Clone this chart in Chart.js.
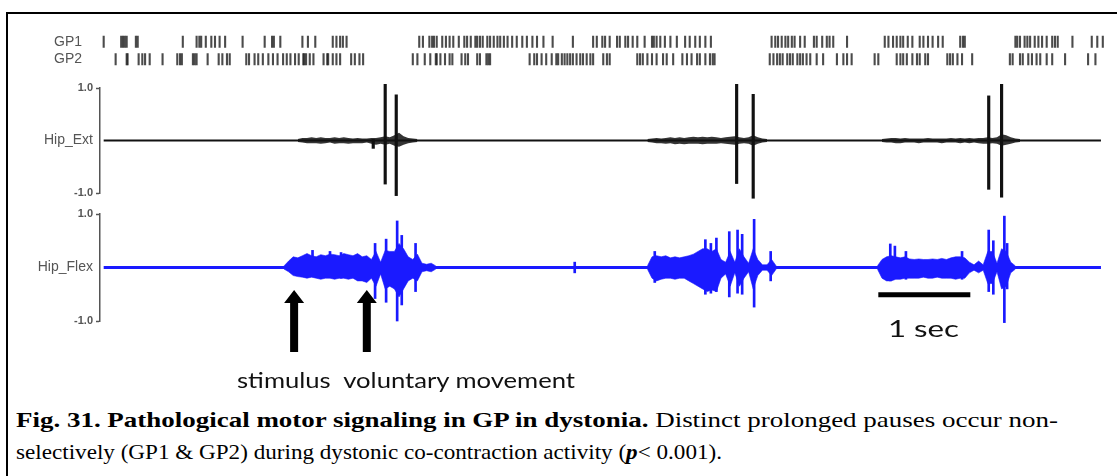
<!DOCTYPE html>
<html><head><meta charset="utf-8">
<script src="https://cdn.jsdelivr.net/npm/chart.js@4.4.1/dist/chart.umd.min.js"></script>
<style>
html,body{margin:0;padding:0;background:#fff;width:1117px;height:476px;overflow:hidden;position:relative;}
#frame{position:absolute;left:6px;top:12px;width:1111px;height:464px;border-left:2px solid #000;border-top:2px solid #000;box-sizing:border-box;}
canvas{position:absolute;left:0;}
.txt{position:absolute;white-space:nowrap;transform-origin:0 0;color:#111;}
.sans{font-family:Lato,'Open Sans',sans-serif;}
.serif{font-family:'Liberation Serif','Times New Roman',serif;font-size:22px;line-height:24px;color:#000;}
</style></head><body>
<div id="frame"></div>
<canvas id="raster" width="1117" height="60" style="top:20px"></canvas>
<canvas id="ext" width="1117" height="130" style="top:78px"></canvas>
<canvas id="flex" width="1117" height="170" style="top:200px"></canvas>
<div class="txt sans" data-w="338" style="left:237px;top:368px;font-size:21px;line-height:24px;">stimulus&nbsp; voluntary movement</div>
<div class="txt sans" data-w="71" style="left:888px;top:315px;font-size:24px;line-height:26px;">1 sec</div>
<div class="txt serif" data-w="1042" style="left:16px;top:408px;"><b>Fig. 31. Pathological motor signaling in GP in dystonia.</b> Distinct prolonged pauses occur non-</div>
<div class="txt serif" data-w="706" style="left:16px;top:440px;">selectively (GP1 &amp; GP2) during dystonic co-contraction activity (<b><i>p</i></b>&lt; 0.001).</div>
<script>
// ---------- data (time in seconds) ----------
const rasterLabels = ['GP1', 'GP2'];
const gp1Times = [0.04,0.23,0.25,0.27,0.29,0.39,0.41,0.90,1.05,1.08,1.10,1.15,1.21,1.25,1.30,1.36,1.55,1.79,1.87,1.89,1.96,2.20,2.26,2.34,2.53,2.57,2.61,2.64,2.68,
3.47,3.51,3.58,3.61,3.63,3.66,3.72,3.76,3.80,3.84,3.90,3.96,3.99,4.03,4.08,4.10,4.13,4.16,4.21,4.24,4.28,4.32,4.35,4.39,4.43,4.48,4.53,4.59,4.64,4.70,4.75,4.82,4.92,5.14,
5.36,5.40,5.46,5.49,5.54,5.62,5.65,5.71,5.74,5.79,5.84,5.92,6.00,6.02,6.05,6.09,6.14,6.20,6.27,6.36,6.41,6.47,6.52,6.58,6.64,
7.30,7.34,7.37,7.41,7.45,7.48,7.52,7.55,7.61,7.66,7.76,7.79,7.85,7.90,7.93,7.97,8.12,
8.53,8.57,8.62,8.66,8.70,8.73,8.78,8.83,8.91,8.95,9.00,9.05,9.11,9.16,9.35,9.38,9.40,
9.95,9.97,10.00,10.05,10.08,10.11,10.16,10.20,10.24,10.29,10.35,10.38,10.41,10.57,10.78,10.84,10.90];
const gp2Times = [0.17,0.29,0.30,0.42,0.46,0.49,0.54,0.68,0.84,0.87,0.89,1.01,1.03,1.05,1.17,1.29,1.33,1.38,1.41,1.59,1.62,1.68,1.72,1.77,1.83,1.88,1.93,1.99,2.03,2.07,2.12,2.16,2.21,2.22,2.24,2.28,2.32,2.43,2.47,2.48,2.53,2.57,2.61,2.73,2.77,2.82,2.86,
3.40,3.45,3.53,3.59,3.65,3.66,3.70,3.75,3.80,3.83,3.93,3.97,4.00,4.10,4.13,4.20,4.22,4.24,
4.67,4.72,4.75,4.80,4.85,4.91,4.96,4.98,5.02,5.05,5.08,5.11,5.14,5.18,5.22,5.25,5.29,5.33,5.36,5.47,5.51,5.54,
5.84,5.87,5.90,5.95,6.00,6.05,6.12,6.16,6.23,6.33,6.38,6.43,6.49,6.52,6.58,6.63,6.66,6.68,
7.28,7.32,7.36,7.39,7.42,7.47,7.50,7.53,7.58,7.61,7.64,7.68,7.72,7.79,7.86,8.01,8.08,8.12,8.17,
8.42,8.46,8.66,8.70,8.73,8.77,8.83,8.88,8.91,8.97,9.00,9.21,9.24,9.27,9.32,9.37,9.48,
9.89,9.92,10.00,10.03,10.09,10.13,10.18,10.22,10.29,10.35,10.49,10.74,10.82];

const traceStart = 0.04, traceEnd = 10.88;
const emgStep = 0.05;
const yTickLabels = ['-1.0', '1.0'];

// Hip_Ext envelopes (upper / lower) and spikes
const extBurst1Start = 2.15;
const extBurst1Hi = [.03,.05,.05,.06,.05,.06,.05,.05,.06,.05,.06,.05,.04,.05,.04,.04,.05,.05,.06,.08,.06,.1,.15,.08,.05,.04,.03];
const extBurst1Lo = [-.03,-.04,-.05,-.05,-.05,-.06,-.05,-.04,-.06,-.05,-.05,-.06,-.05,-.05,-.05,-.04,-.06,-.08,-.06,-.08,-.06,-.1,-.12,-.08,-.05,-.04,-.03];
const extBurst2Start = 5.95;
const extBurst2Hi = [.03,.04,.05,.04,.05,.06,.05,.06,.05,.06,.07,.06,.07,.06,.07,.06,.05,.06,.07,.08,.06,.05,.06,.1,.06,.04,.03];
const extBurst2Lo = [-.03,-.04,-.05,-.05,-.06,-.05,-.07,-.06,-.07,-.06,-.06,-.06,-.07,-.06,-.06,-.06,-.05,-.06,-.07,-.08,-.06,-.05,-.06,-.1,-.06,-.04,-.03];
const extBurst3Start = 8.50;
const extBurst3Hi = [.03,.04,.05,.05,.04,.05,.04,.04,.04,.04,.05,.04,.04,.04,.04,.05,.04,.05,.04,.05,.04,.05,.05,.06,.05,.06,.12,.1,.06,.04,.03];
const extBurst3Lo = [-.03,-.04,-.04,-.05,-.05,-.04,-.04,-.04,-.05,-.04,-.04,-.04,-.04,-.05,-.04,-.04,-.04,-.05,-.04,-.05,-.04,-.05,-.06,-.06,-.05,-.06,-.1,-.08,-.06,-.04,-.03];
const extSpikeT  = [2.97, 3.10, 3.22, 6.92, 7.10, 9.66, 9.80];
const extSpikeHi = [.02, 1.07, .87, 1.07, .88, .85, 1.07];
const extSpikeLo = [-.15, -.83, -1.05, -.82, -1.1, -.93, -1.08];

// Hip_Flex envelopes and spikes
const flexBurst1Start = 2.00;
const flexBurst1Hi = [.03,.12,.2,.18,.22,.26,.22,.2,.24,.22,.25,.24,.22,.26,.24,.22,.26,.2,.22,.15,.3,.1,.32,.3,.3,.45,.35,.2,.15,.25,.08,.06,.08,.03];
const flexBurst1Lo = [-.03,-.08,-.15,-.17,-.18,-.2,-.18,-.2,-.22,-.2,-.2,-.22,-.2,-.2,-.22,-.2,-.25,-.25,-.28,-.2,-.35,-.12,-.4,-.35,-.4,-.55,-.4,-.25,-.2,-.25,-.08,-.06,-.08,-.03];
const flexBurst2Start = 5.95;
const flexBurst2Hi = [.03,.2,.22,.2,.22,.18,.2,.18,.2,.22,.25,.3,.35,.35,.3,.35,.15,.1,.3,.1,.35,.2,.08,.35,.15,.05,.05,.15,.03];
const flexBurst2Lo = [-.03,-.2,-.25,-.22,-.2,-.2,-.22,-.2,-.2,-.25,-.3,-.35,-.4,-.45,-.42,-.45,-.2,-.12,-.35,-.1,-.35,-.2,-.08,-.4,-.15,-.05,-.05,-.15,-.03];
const flexBurst3Start = 8.45;
const flexBurst3Hi = [.03,.15,.2,.22,.2,.18,.2,.16,.15,.16,.15,.15,.16,.15,.17,.15,.18,.2,.2,.18,.1,.05,.12,.05,.3,.3,.08,.35,.3,.1,.03];
const flexBurst3Lo = [-.03,-.2,-.25,-.25,-.22,-.22,-.2,-.2,-.2,-.2,-.18,-.2,-.2,-.18,-.2,-.2,-.2,-.22,-.2,-.2,-.1,-.05,-.1,-.05,-.3,-.3,-.08,-.4,-.35,-.1,-.03];
const flexSpikeT  = [2.31, 2.50, 2.62, 2.99, 3.11, 3.23, 3.28, 3.43, 5.16, 6.03, 6.58, 6.64, 6.70, 6.84, 6.93, 6.98, 7.11, 7.29, 8.59, 8.64, 8.76, 9.37, 9.66, 9.71, 9.83, 9.86];
const flexSpikeHi = [.32, .3, .28, .45, .53, .87, .6, .45, .1, .3, .52, .45, .55, .67, .7, .62, .9, .3, .44, .4, .3, .3, .7, .5, .96, .45];
const flexSpikeLo = [-.12, -.15, -.2, -.58, -.65, -1.0, -.7, -.45, -.1, -.28, -.5, -.48, -.45, -.55, -.48, -.5, -.74, -.25, -.25, -.2, -.22, -.22, -.45, -.5, -1.03, -.4];

// annotations
const arrowTimes = [2.11, 2.90];
const arrowTip = -0.42, arrowTail = -1.58;
const scaleBarStart = 8.46, scaleBarEnd = 9.46, scaleBarLevel = -0.51;

// ---------- helpers ----------
const X_MIN = 0, X_MAX = 11;
const FONT = "'Liberation Sans', Arial, sans-serif";
const EXT_COLOR = '#111111';
const EXT_FILL = 'rgba(17,17,17,0.85)';
const FLEX_COLOR = '#1a1aff';

function burstPoints(start, vals) {
  return vals.map((v, i) => ({ x: +(start + i * emgStep).toFixed(3), y: v }));
}
function burstDatasets(start, hi, lo, color, fillColor, bw) {
  return [
    { type: 'line', data: burstPoints(start, lo), borderColor: color, backgroundColor: fillColor, borderWidth: bw, pointRadius: 0, fill: false, tension: 0, clip: false },
    { type: 'line', data: burstPoints(start, hi), borderColor: color, backgroundColor: fillColor, borderWidth: bw, pointRadius: 0, fill: '-1', tension: 0, clip: false }
  ];
}
function spikeDataset(ts, hi, lo, color, w) {
  return { type: 'bar', data: ts.map((t, i) => ({ x: t, y: [lo[i], hi[i]] })), backgroundColor: color, barThickness: w, clip: false, grouped: false };
}
function baselineDataset(color, w) {
  return { type: 'line', data: [{ x: traceStart, y: 0 }, { x: traceEnd, y: 0 }], borderColor: color, borderWidth: w, pointRadius: 0, fill: false, clip: false };
}
function makeXScale() {
  return { type: 'linear', min: X_MIN, max: X_MAX, display: false, offset: false, grid: { offset: false } };
}
function emgOptions(label, padTop, padBottom) {
  return {
    responsive: false, animation: false, devicePixelRatio: 1, events: [],
    layout: { padding: { left: 0, right: 5, top: padTop, bottom: padBottom }, autoPadding: false },
    plugins: { legend: { display: false }, tooltip: { enabled: false } },
    scales: {
      x: makeXScale(),
      y: {
        type: 'linear', min: -1, max: 1,
        afterFit(s) { s.width = 100; },
        afterBuildTicks(s) { s.ticks = [{ value: -1 }, { value: 0 }, { value: 1 }]; },
        grid: { drawOnChartArea: false, drawTicks: true, tickLength: 4, tickWidth: 1.5,
                tickColor: c => (c.tick && c.tick.value === 0) ? 'rgba(0,0,0,0)' : '#555' },
        border: { display: true, color: '#555', width: 1.5 },
        ticks: {
          padding: 3, color: '#555', autoSkip: false,
          font: c => (c.tick && c.tick.value === 0) ? { size: 14, family: FONT } : { size: 11, family: FONT, weight: 'bold' },
          callback: v => v === 1 ? yTickLabels[1] : (v === -1 ? yTickLabels[0] : label)
        }
      }
    }
  };
}

// ---------- raster ----------
const RASTER_COLOR = 'rgba(30,30,30,0.8)';
function rasterDataset(times, row) {
  return { type: 'scatter', data: times.map(t => ({ x: t, y: row })), showLine: false,
           pointStyle: 'line', pointRotation: 90, pointRadius: 6, pointBorderWidth: 2.1,
           pointBorderColor: RASTER_COLOR, pointBackgroundColor: RASTER_COLOR,
           borderColor: RASTER_COLOR, backgroundColor: RASTER_COLOR, clip: false };
}
new Chart(document.getElementById('raster'), {
  type: 'scatter',
  data: { datasets: [ rasterDataset(gp1Times, 1), rasterDataset(gp2Times, 0) ] },
  options: {
    responsive: false, animation: false, devicePixelRatio: 1, events: [],
    layout: { padding: { left: 0, right: 5, top: 13, bottom: 12 }, autoPadding: false },
    plugins: { legend: { display: false }, tooltip: { enabled: false } },
    scales: {
      x: makeXScale(),
      y: {
        type: 'linear', min: -0.5, max: 1.5,
        afterFit(s) { s.width = 100; },
        afterBuildTicks(s) { s.ticks = [{ value: 0 }, { value: 1 }]; },
        grid: { display: true, drawOnChartArea: false, drawTicks: true, tickLength: 15, tickColor: 'rgba(0,0,0,0)' },
        border: { display: false },
        ticks: { padding: 3, color: '#555', autoSkip: false, font: { size: 14, family: FONT },
                 callback: v => v === 1 ? rasterLabels[0] : rasterLabels[1] }
      }
    }
  }
});

// ---------- Hip_Ext ----------
new Chart(document.getElementById('ext'), {
  type: 'line',
  data: { datasets: [
    baselineDataset(EXT_COLOR, 2),
    ...burstDatasets(extBurst1Start, extBurst1Hi, extBurst1Lo, EXT_FILL, EXT_FILL, 0),
    ...burstDatasets(extBurst2Start, extBurst2Hi, extBurst2Lo, EXT_FILL, EXT_FILL, 0),
    ...burstDatasets(extBurst3Start, extBurst3Hi, extBurst3Lo, EXT_FILL, EXT_FILL, 0),
    spikeDataset(extSpikeT, extSpikeHi, extSpikeLo, EXT_COLOR, 2.5)
  ]},
  options: emgOptions('Hip_Ext', 10, 15)
});

// ---------- Hip_Flex ----------
const arrowPlugin = {
  id: 'arrows',
  afterDatasetsDraw(chart) {
    const { ctx, scales: { x, y } } = chart;
    ctx.save();
    ctx.fillStyle = '#000';
    arrowTimes.forEach(t => {
      const px = x.getPixelForValue(t);
      const top = y.getPixelForValue(arrowTip);
      const bot = y.getPixelForValue(arrowTail);
      ctx.beginPath();
      ctx.moveTo(px, top);
      ctx.lineTo(px + 10, top + 13);
      ctx.lineTo(px + 4, top + 13);
      ctx.lineTo(px + 4, bot);
      ctx.lineTo(px - 4, bot);
      ctx.lineTo(px - 4, top + 13);
      ctx.lineTo(px - 10, top + 13);
      ctx.closePath();
      ctx.fill();
    });
    ctx.restore();
  }
};
new Chart(document.getElementById('flex'), {
  type: 'line',
  data: { datasets: [
    baselineDataset(FLEX_COLOR, 3),
    ...burstDatasets(flexBurst1Start, flexBurst1Hi, flexBurst1Lo, FLEX_COLOR, FLEX_COLOR, 0.6),
    ...burstDatasets(flexBurst2Start, flexBurst2Hi, flexBurst2Lo, FLEX_COLOR, FLEX_COLOR, 0.6),
    ...burstDatasets(flexBurst3Start, flexBurst3Hi, flexBurst3Lo, FLEX_COLOR, FLEX_COLOR, 0.6),
    spikeDataset(flexSpikeT, flexSpikeHi, flexSpikeLo, FLEX_COLOR, 2),
    { type: 'line', data: [{ x: scaleBarStart, y: scaleBarLevel }, { x: scaleBarEnd, y: scaleBarLevel }],
      borderColor: '#000', borderWidth: 5, pointRadius: 0, fill: false, clip: false, borderCapStyle: 'butt' }
  ]},
  options: emgOptions('Hip_Flex', 14, 49),
  plugins: [arrowPlugin]
});

// ---------- fit text widths ----------
function fitText() {
  document.querySelectorAll('.txt').forEach(el => {
    el.style.transform = 'none';
    const w = el.getBoundingClientRect().width;
    const target = +el.dataset.w;
    if (w > 0) el.style.transform = 'scaleX(' + (target / w) + ')';
  });
}
fitText();
if (document.fonts && document.fonts.ready) document.fonts.ready.then(fitText);
</script>
</body></html>
